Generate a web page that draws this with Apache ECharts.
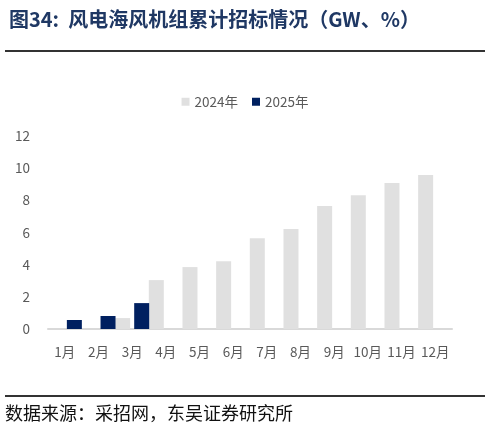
<!DOCTYPE html>
<html>
<head>
<meta charset="utf-8">
<script src="https://cdn.jsdelivr.net/npm/echarts@6/dist/echarts.min.js"></script>
<style>
  html, body { margin: 0; padding: 0; background: #fff; }
  #chart { width: 490px; height: 437px; }
</style>
</head>
<body>
<div id="chart"></div>
<script>
// 风电海风机组累计招标（GW）
const months = ['1月', '2月', '3月', '4月', '5月', '6月', '7月', '8月', '9月', '10月', '11月', '12月'];
const yAxisTicks = [0, 2, 4, 6, 8, 10, 12];
const values2024 = [0, 0, 0.68, 3.04, 3.85, 4.22, 5.65, 6.21, 7.64, 8.32, 9.07, 9.57];
const values2025 = [0.56, 0.81, 1.61];

const FONT = '"Noto Sans CJK SC", "Noto Sans", sans-serif';

const chart = echarts.init(document.getElementById('chart'));

chart.setOption({
  animation: false,
  textStyle: { fontFamily: FONT },
  title: {
    text: '图34:  风电海风机组累计招标情况（GW、%）',
    left: 4,
    top: 4,
    textStyle: { fontSize: 20, fontWeight: 'bold', color: '#1F3864', fontFamily: FONT }
  },
  graphic: [
    { type: 'line', shape: { x1: 5, y1: 51, x2: 485, y2: 51 }, style: { stroke: '#333', lineWidth: 2 } },
    { type: 'line', shape: { x1: 5, y1: 396, x2: 485, y2: 396 }, style: { stroke: '#333', lineWidth: 2 } },
    {
      type: 'text', left: 5, top: 404,
      style: { text: '数据来源：采招网，东吴证券研究所', fontSize: 18, fill: '#111', fontFamily: FONT }
    }
  ],
  legend: {
    top: 90,
    left: 'center',
    itemWidth: 8,
    itemHeight: 8,
    itemGap: 14,
    icon: 'rect',
    data: ['2024年', '2025年'],
    textStyle: { fontSize: 13.5, color: '#595959' }
  },
  grid: { left: 48, right: 38, top: 136, bottom: 108 },
  xAxis: {
    type: 'category',
    data: months,
    axisLine: { lineStyle: { color: '#d9d9d9', width: 2 } },
    axisTick: { show: false },
    axisLabel: { fontSize: 13.5, color: '#595959', margin: 16, interval: 0 }
  },
  yAxis: {
    type: 'value',
    min: yAxisTicks[0],
    max: yAxisTicks[yAxisTicks.length - 1],
    interval: 2,
    axisLine: { show: false },
    axisTick: { show: false },
    splitLine: { show: false },
    axisLabel: { fontSize: 13.5, color: '#595959', margin: 18 }
  },
  series: [
    {
      name: '2024年',
      type: 'bar',
      data: values2024,
      barWidth: 15,
      barGap: '27%',
      itemStyle: { color: '#e0e0e0' }
    },
    {
      name: '2025年',
      type: 'bar',
      data: values2025,
      barWidth: 15,
      itemStyle: { color: '#002060' }
    }
  ]
});
</script>
</body>
</html>
